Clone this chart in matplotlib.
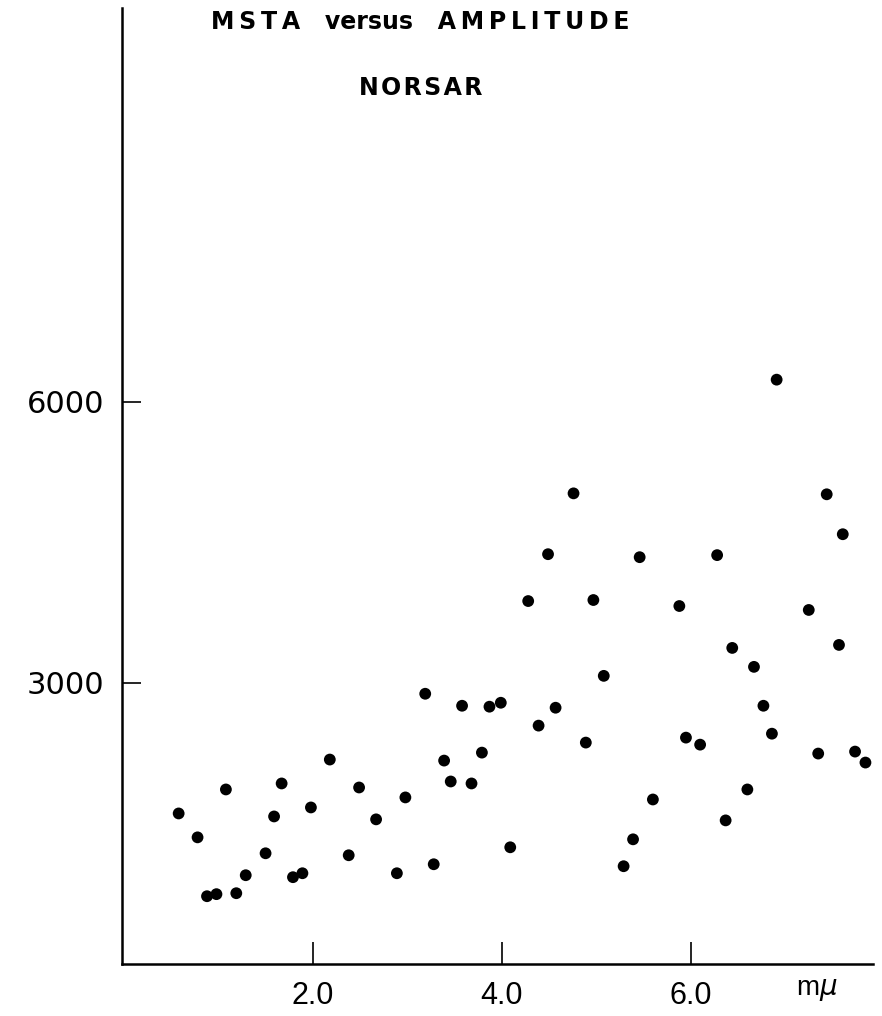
import numpy as np
import matplotlib
matplotlib.use("Agg")
import matplotlib.pyplot as plt

# amplitude (m-mu) and MSTA for each event at NORSAR
amplitude = [0.58, 0.78, 0.88, 0.98, 1.08, 1.19, 1.29, 1.50, 1.59, 1.67,
             1.79, 1.89, 1.98, 2.18, 2.38, 2.49, 2.67, 2.89, 2.98, 3.19,
             3.28, 3.39, 3.46, 3.58, 3.68, 3.79, 3.87, 3.99, 4.09, 4.28,
             4.39, 4.49, 4.57, 4.76, 4.89, 4.97, 5.08, 5.29, 5.39, 5.46,
             5.60, 5.88, 5.95, 6.10, 6.28, 6.37, 6.44, 6.67, 6.60, 6.77,
             6.86, 6.91, 7.25, 7.35, 7.44, 7.57, 7.61, 7.74, 7.85]
msta = [1606, 1351, 723, 745, 1862, 755, 947, 1181, 1574, 1926,
        926, 968, 1670, 2181, 1160, 1883, 1543, 968, 1777, 2883,
        1064, 2170, 1947, 2755, 1926, 2255, 2745, 2787, 1245, 3872,
        2543, 4372, 2734, 5021, 2362, 3883, 3074, 1043, 1330, 4340,
        1755, 3819, 2415, 2340, 4362, 1532, 3372, 3170, 1862, 2755,
        2457, 6234, 3777, 2245, 5011, 3404, 4585, 2266, 2149]

xticks = [2.0, 4.0, 6.0]
xtick_labels = ["2.0", "4.0", "6.0"]
yticks = [3000, 6000]
ytick_labels = ["3000", "6000"]


def spaced(word, gap="\u2009"):
    # letter-spaced capitals for the heading
    return gap.join(word)


fig = plt.figure(figsize=(8.82, 10.16), dpi=100)
ax = fig.add_axes([0.1383, 0.0512, 0.8515, 0.941])

ax.scatter(amplitude, msta, s=72, color="black", edgecolors="none", zorder=3)

ax.set_xlim(-0.02, 7.93)
ax.set_ylim(0, 10200)

for side in ["top", "right"]:
    ax.spines[side].set_visible(False)
for side in ["left", "bottom"]:
    ax.spines[side].set_linewidth(1.8)

ax.set_xticks(xticks)
ax.set_xticklabels(xtick_labels, fontsize=22, family="Liberation Sans")
ax.set_yticks(yticks)
ax.set_yticklabels(ytick_labels, fontsize=22, family="DejaVu Sans")
ax.tick_params(axis="x", direction="in", length=16, width=1.2, pad=12)
ax.tick_params(axis="y", direction="in", length=14, width=1.2, pad=13)

# unit label at the end of the amplitude axis
ax.text(7.34, -330, r"m$\mu$", fontsize=20, ha="center", va="baseline",
        family="Liberation Sans")

title = spaced("MSTA") + "   versus   " + spaced("AMPLITUDE")
fig.text(0.477, 0.978, title, fontsize=17, ha="center", va="center",
         weight="bold", family="DejaVu Sans")
fig.text(0.477, 0.913, spaced("NORSAR", "\u200a"), fontsize=17, ha="center",
         va="center", weight="bold", family="DejaVu Sans")

fig.savefig("out.png", dpi=100)
